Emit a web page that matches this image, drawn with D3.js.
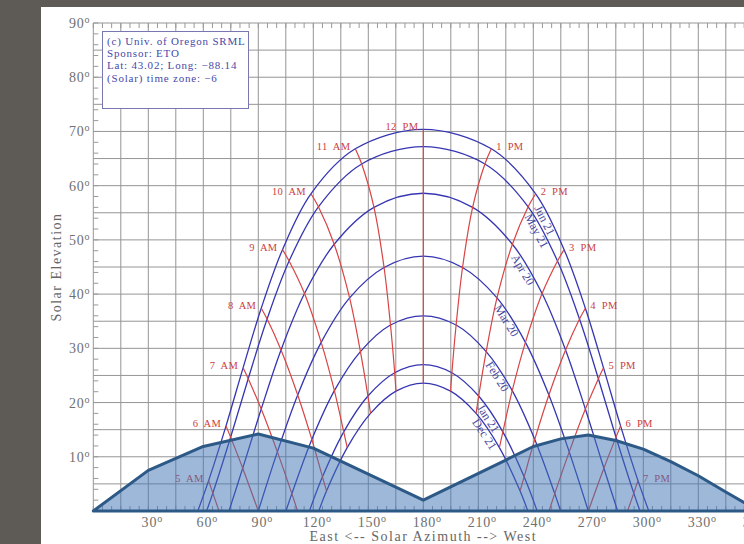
<!DOCTYPE html>
<html lang="en">
<head>
  <meta charset="UTF-8">
  <title>Sun Path Chart</title>
  <style>
    body { margin: 0; padding: 0; background: #5e5a55; }
    svg { display: block; }
    text { font-family: "Liberation Serif", "DejaVu Serif", serif; }
    .grid line { stroke: #959595; stroke-width: 1; }
    .tick-label { fill: #707070; font-size: 14px; letter-spacing: 0.8px; }
    .axis-title { fill: #666; font-size: 14px; letter-spacing: 1.5px; }
    .date-curve { fill: none; stroke: #3636b2; stroke-width: 1.3; }
    .hour-line { fill: none; stroke: #d84444; stroke-width: 1.2; }
    .hour-label { fill: #cc4040; font-size: 10.5px; letter-spacing: 0.3px; }
    .date-label { fill: #4848a0; font-size: 12px; }
    .info text { fill: #4848a8; font-size: 11px; letter-spacing: 0.8px; }
  </style>
</head>
<body>
  <svg id="chart" width="744" height="544"></svg>

  <script src="https://d3js.org/d3.v7.min.js"></script>
  <script>
    // hours drawn on the chart (solar time)
    const hourLabels = ["5 AM", "6 AM", "7 AM", "8 AM", "9 AM", "10 AM", "11 AM", "12 PM",
                        "1 PM", "2 PM", "3 PM", "4 PM", "5 PM", "6 PM", "7 PM"];
    const dateLabels = ["Jun 21", "May 21", "Apr 20", "Mar 20", "Feb 20", "Jan 21", "Dec 21"];

    // sunrise / sunset azimuth for each date (elevation 0)
    const riseAz = [57.0, 61.8, 74.0, 90.0, 105.1, 117.9, 123.0];
    const setAz = [303.0, 298.2, 286.0, 270.0, 254.9, 242.1, 237.0];

    // sun azimuth per date (rows) and hour (columns), null = sun below horizon
    const sunAz = [
      [62.9, 72.4, 81.7, 91.6, 103.2, 118.7, 142.9, 180, 217.1, 241.3, 256.8, 268.4, 278.3, 287.6, 297.1],
      [65.2, 74.9, 84.5, 94.8, 106.8, 122.8, 146.4, 180, 213.6, 237.2, 253.2, 265.2, 275.5, 285.1, 294.8],
      [null, 81.5, 91.6, 102.4, 115.2, 131.4, 153.1, 180, 206.9, 228.6, 244.8, 257.6, 268.4, 278.5, null],
      [null, null, 100.4, 111.5, 124.3, 139.8, 158.6, 180, 201.4, 220.2, 235.7, 248.5, 259.6, null, null],
      [null, null, 108.3, 119.2, 131.5, 145.7, 162.1, 180, 197.9, 214.3, 228.5, 240.8, 251.7, null, null],
      [null, null, null, 125.0, 136.6, 149.8, 164.4, 180, 195.6, 210.2, 223.4, 235.0, null, null, null],
      [null, null, null, 127.2, 138.5, 151.2, 165.1, 180, 194.9, 208.8, 221.5, 232.8, null, null, null]
    ];
    // sun elevation, same layout
    const sunEl = [
      [5.6, 15.7, 26.4, 37.4, 48.2, 58.5, 66.8, 70.4, 66.8, 58.5, 48.2, 37.4, 26.4, 15.7, 5.6],
      [3.3, 13.6, 24.4, 35.4, 46.1, 56.1, 64.0, 67.2, 64.0, 56.1, 46.1, 35.4, 24.4, 13.6, 3.3],
      [null, 7.9, 18.8, 29.7, 40.1, 49.2, 56.0, 58.6, 56.0, 49.2, 40.1, 29.7, 18.8, 7.9, null],
      [null, null, 10.9, 21.4, 31.1, 39.3, 44.9, 47.0, 44.9, 39.3, 31.1, 21.4, 10.9, null, null],
      [null, null, 3.2, 13.2, 22.2, 29.4, 34.3, 36.0, 34.3, 29.4, 22.2, 13.2, 3.2, null, null],
      [null, null, null, 6.3, 14.6, 21.2, 25.5, 27.0, 25.5, 21.2, 14.6, 6.3, null, null, null],
      [null, null, null, 3.7, 11.7, 18.0, 22.1, 23.6, 22.1, 18.0, 11.7, 3.7, null, null, null]
    ];
    // where the early / late hour lines reach the horizon
    const hourEndAz = [68.6, 90.0, 111.4, null, null, null, null, null,
                       null, null, null, null, 248.6, 270.0, 291.4];

    // obstruction (horizon) profile
    const horizonAz = [0, 30, 60, 90, 120, 135, 180, 225, 240, 255, 270, 285, 300, 315, 330, 345, 360];
    const horizonEl = [0, 7.5, 11.9, 14.2, 11.6, 9.2, 2.0, 9.4, 11.9, 13.3, 14.0, 13.0, 11.4, 9.1, 6.5, 3.5, 0.6];

    const infoLines = ["(c) Univ. of Oregon SRML", "Sponsor: ETO",
                       "Lat: 43.02; Long: \u221288.14", "(Solar) time zone: \u22126"];

    const svg = d3.select("#chart");

    // page background and white chart panel
    svg.append("rect").attr("width", 744).attr("height", 544).attr("fill", "#5e5a55");
    svg.append("rect").attr("x", 41).attr("y", 7).attr("width", 703).attr("height", 537).attr("fill", "#fff");

    const x = d3.scaleLinear().domain([0, 360]).range([93.3, 753.3]);
    const y = d3.scaleLinear().domain([0, 90]).range([511, 23]);

    // grid
    const grid = svg.append("g").attr("class", "grid");
    grid.selectAll(".v").data(d3.range(0, 361, 15)).join("line")
      .attr("x1", d => x(d)).attr("x2", d => x(d))
      .attr("y1", y(0)).attr("y2", y(90));
    grid.selectAll(".h").data(d3.range(0, 91, 5)).join("line")
      .attr("x1", x(0)).attr("x2", x(360))
      .attr("y1", d => y(d)).attr("y2", d => y(d));

    // minor ticks
    const ticks = svg.append("g").attr("stroke", "#999");
    ticks.selectAll(".yt").data(d3.range(0, 91, 2)).join("line")
      .attr("x1", x(0)).attr("x2", x(0) + 5)
      .attr("y1", d => y(d)).attr("y2", d => y(d));
    ticks.selectAll(".xb").data(d3.range(0, 361, 5)).join("line")
      .attr("x1", d => x(d)).attr("x2", d => x(d))
      .attr("y1", y(0)).attr("y2", y(0) - 5);
    ticks.selectAll(".xt").data(d3.range(0, 361, 5)).join("line")
      .attr("x1", d => x(d)).attr("x2", d => x(d))
      .attr("y1", y(90)).attr("y2", y(90) + 5);

    // date curves and hour lines
    const line = d3.line()
      .x(d => x(d[0])).y(d => y(d[1]))
      .curve(d3.curveCatmullRom.alpha(0.5));

    const datePoints = dateLabels.map((lab, i) => {
      const pts = [[riseAz[i], 0]];
      sunAz[i].forEach((az, h) => { if (az !== null) pts.push([az, sunEl[i][h]]); });
      pts.push([setAz[i], 0]);
      return pts;
    });

    const hourPoints = hourLabels.map((lab, h) => {
      const pts = [];
      dateLabels.forEach((d, i) => { if (sunAz[i][h] !== null) pts.push([sunAz[i][h], sunEl[i][h]]); });
      if (hourEndAz[h] !== null) pts.push([hourEndAz[h], 0]);
      return pts;
    });

    const curves = svg.append("g").selectAll("path").data(datePoints).join("path")
      .attr("class", "date-curve")
      .attr("d", line);

    svg.append("g").selectAll("path").data(hourPoints).join("path")
      .attr("class", "hour-line")
      .attr("d", line);

    // hour labels next to the Jun 21 points
    svg.append("g").selectAll("text").data(hourLabels).join("text")
      .attr("class", "hour-label")
      .attr("x", (d, h) => x(sunAz[0][h]) + (h <= 7 ? -5 : 5))
      .attr("y", (d, h) => y(sunEl[0][h]) + 1)
      .attr("text-anchor", (d, h) => h <= 7 ? "end" : "start")
      .text(d => d.replace(" ", "\u00a0 "));

    // date labels laid along the afternoon side of each curve
    const labelAz = [249, 244.5, 237, 228, 223, 218, 216];
    curves.each(function(d, i) {
      const path = this;
      const tx = x(labelAz[i]);
      let lo = 0, hi = path.getTotalLength();
      for (let k = 0; k < 40; k++) {
        const mid = (lo + hi) / 2;
        if (path.getPointAtLength(mid).x < tx) lo = mid; else hi = mid;
      }
      const p = path.getPointAtLength(lo);
      const a = path.getPointAtLength(lo - 2), b = path.getPointAtLength(lo + 2);
      const ang = Math.atan2(b.y - a.y, b.x - a.x) * 180 / Math.PI;
      svg.append("text")
        .attr("class", "date-label")
        .attr("transform", `translate(${p.x},${p.y}) rotate(${ang})`)
        .attr("y", 7)
        .attr("text-anchor", "middle")
        .attr("dominant-baseline", "middle")
        .text(dateLabels[i]);
    });

    // shaded horizon obstruction
    const horizon = horizonAz.map((az, i) => [az, horizonEl[i]]);
    horizon.push([360, 0]);
    svg.append("path")
      .attr("d", d3.line().x(d => x(d[0])).y(d => y(d[1]))(horizon) + "Z")
      .attr("fill", "#3d72b4")
      .attr("fill-opacity", 0.5)
      .attr("stroke", "#2d5987")
      .attr("stroke-width", 3)
      .attr("stroke-linejoin", "round");

    // tick labels
    const yLab = svg.append("g").selectAll("text").data(d3.range(10, 91, 10)).join("text")
      .attr("class", "tick-label")
      .attr("x", x(0) - 3)
      .attr("y", d => y(d) + 5)
      .attr("text-anchor", "end")
      .text(d => d);
    yLab.append("tspan").attr("font-size", 10).attr("dy", -5).text("o");

    const xLab = svg.append("g").selectAll("text").data(d3.range(30, 361, 30)).join("text")
      .attr("class", "tick-label")
      .attr("x", d => x(d) + 4)
      .attr("y", 527)
      .attr("text-anchor", "middle")
      .text(d => d);
    xLab.append("tspan").attr("font-size", 10).attr("dy", -5).text("o");

    svg.append("text")
      .attr("class", "axis-title")
      .attr("transform", `translate(61,${y(45)}) rotate(-90)`)
      .attr("text-anchor", "middle")
      .text("Solar Elevation");

    svg.append("text")
      .attr("class", "axis-title")
      .attr("x", x(180))
      .attr("y", 541)
      .attr("text-anchor", "middle")
      .text("East <-- Solar Azimuth --> West");

    // info box
    const info = svg.append("g").attr("class", "info");
    info.append("rect")
      .attr("x", 102.5).attr("y", 31.5).attr("width", 146).attr("height", 77)
      .attr("fill", "#fff").attr("stroke", "#7878b0").attr("stroke-width", 1);
    info.selectAll("text").data(infoLines).join("text")
      .attr("x", 107)
      .attr("y", (d, i) => 45 + i * 12.2)
      .text(d => d);
  </script>
</body>
</html>
